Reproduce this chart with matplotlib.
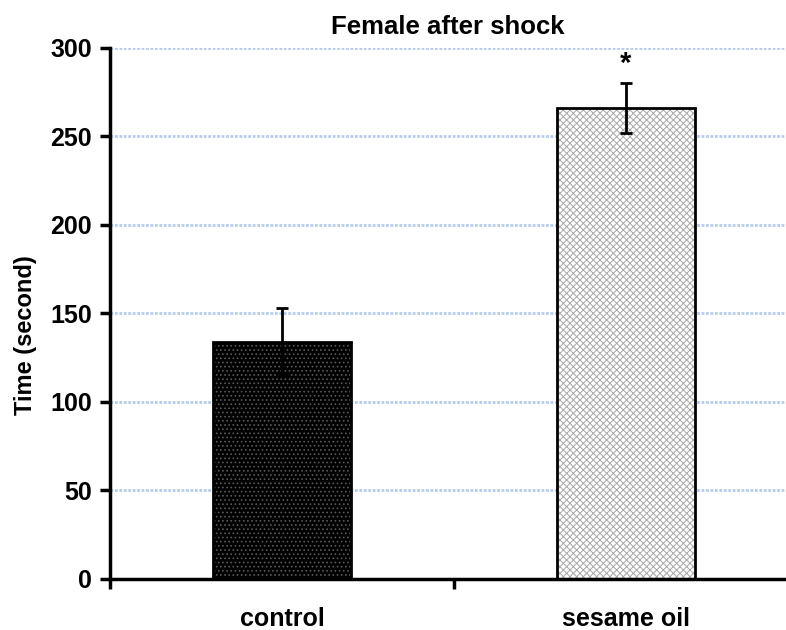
import numpy as np
import matplotlib.pyplot as plt

# dati
gruppi = ['control', 'sesame oil']
medie = [134, 266]
errori = [19, 14]
asterischi = ['', '*']

plt.rcParams['font.family'] = ['Liberation Sans', 'DejaVu Sans']
plt.rcParams['font.weight'] = 'bold'
plt.rcParams['hatch.linewidth'] = 0.7

fig = plt.figure(figsize=(7.86, 6.3), dpi=100)
ax = fig.add_axes([0.14, 0.081, 0.86, 0.843])

x = np.arange(len(gruppi))

# griglia orizzontale azzurra
ax.set_axisbelow(True)
ax.yaxis.grid(True, color='#b6cbee', linestyle=(0, (1, 0.6)), linewidth=2)

# riempimento con trama
ax.bar(x[0], medie[0], width=0.4, color='black', edgecolor='#5a5a5a',
       hatch='....', linewidth=0)
ax.bar(x[1], medie[1], width=0.4, color='white', edgecolor='#a8a8a8',
       hatch='xxxxx', linewidth=0)
# contorno nero e barre di errore
ax.bar(x, medie, width=0.4, fill=False, edgecolor='black', linewidth=2,
       yerr=errori, error_kw=dict(ecolor='black', elinewidth=2,
                                  capsize=4.5, capthick=2))

for xi, m, e, s in zip(x, medie, errori, asterischi):
    if s:
        ax.text(xi, m + e + 3, s, ha='center', va='bottom', fontsize=21)

ax.set_xlim(-0.5, 1.465)
ax.set_ylim(0, 300)
ax.set_yticks(np.arange(0, 301, 50))
ax.set_xticks([-0.5, 0.5])
ax.set_xticklabels([])
ax.set_xticks(x, minor=True)
ax.set_xticklabels(gruppi, minor=True, fontsize=18)
ax.tick_params(axis='x', which='minor', length=0, pad=20)
ax.tick_params(axis='x', which='major', direction='out', length=7, width=2.5)
ax.tick_params(axis='y', direction='out', length=7, width=2.5, labelsize=18,
               pad=6)

for lato in ['top', 'right']:
    ax.spines[lato].set_visible(False)
for lato in ['left', 'bottom']:
    ax.spines[lato].set_linewidth(2.5)

ax.set_ylabel('Time (second)', fontsize=17, fontweight='bold')
ax.yaxis.set_label_coords(-0.108, 0.46)
ax.set_title('Female after shock', fontsize=18.5, fontweight='bold', pad=10)

fig.savefig('out.png', dpi=100)
